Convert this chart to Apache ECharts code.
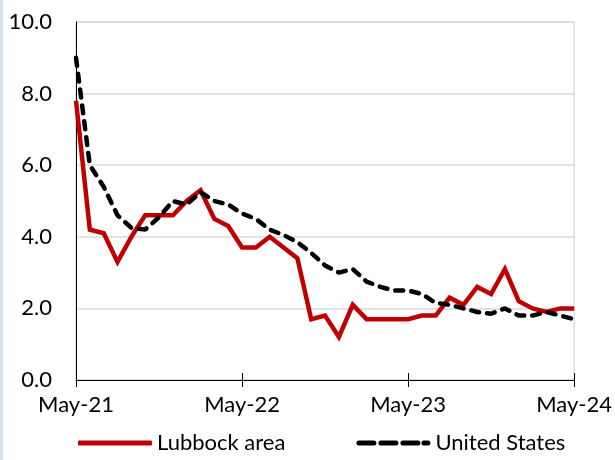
<!DOCTYPE html>
<html>
<head>
<meta charset="utf-8">
<script src="https://cdn.jsdelivr.net/npm/echarts@6/dist/echarts.min.js"></script>
<style>html,body{margin:0;padding:0;background:#fff}#c{width:615px;height:460px}</style>
</head>
<body>
<div id="c"></div>
<script>
const months = ['May-21','Jun-21','Jul-21','Aug-21','Sep-21','Oct-21','Nov-21','Dec-21','Jan-22','Feb-22','Mar-22','Apr-22',
  'May-22','Jun-22','Jul-22','Aug-22','Sep-22','Oct-22','Nov-22','Dec-22','Jan-23','Feb-23','Mar-23','Apr-23',
  'May-23','Jun-23','Jul-23','Aug-23','Sep-23','Oct-23','Nov-23','Dec-23','Jan-24','Feb-24','Mar-24','Apr-24','May-24'];
const lubbock = [7.8,4.2,4.1,3.3,4.0,4.6,4.6,4.6,5.0,5.3,4.5,4.3,
  3.7,3.7,4.0,3.7,3.4,1.7,1.8,1.2,2.1,1.7,1.7,1.7,
  1.7,1.8,1.8,2.3,2.1,2.6,2.4,3.1,2.2,2.0,1.9,2.0,2.0];
const unitedStates = [9.0,6.0,5.4,4.6,4.25,4.2,4.55,5.0,4.9,5.25,5.0,4.9,
  4.65,4.5,4.2,4.05,3.85,3.55,3.2,3.0,3.1,2.75,2.6,2.5,
  2.5,2.4,2.15,2.1,2.0,1.9,1.85,2.0,1.8,1.8,1.9,1.8,1.7];
const FONT = 'Lato';
const dashIcon = 'path://M2,0h15a2,2 0 0 1 0,5h-15a2,2 0 0 1 0,-5z M24,0h15a2,2 0 0 1 0,5h-15a2,2 0 0 1 0,-5z M46,0h15a2,2 0 0 1 0,5h-15a2,2 0 0 1 0,-5z M67,0h4a2.5,2.5 0 0 1 0,5h-4a2.5,2.5 0 0 1 0,-5z';
const chart = echarts.init(document.getElementById('c'), null, {renderer:'canvas'});
chart.setOption({
  animation:false,
  backgroundColor:'#fff',
  graphic:[{type:'rect',shape:{x:0,y:0,width:3,height:460},style:{fill:'#d6e1f2'},silent:true}],
  grid:{left:76,right:39,top:22,bottom:80,show:true,borderColor:'#d0d0d0',borderWidth:1,containLabel:false},
  legend:{bottom:1,left:73,itemWidth:74,itemHeight:5,itemGap:71,
    textStyle:{fontFamily:FONT,fontSize:22,color:'#000'},
    data:[{name:'Lubbock area',icon:'roundRect',itemStyle:{color:'#c00000'}},
          {name:'United States',icon:dashIcon,itemStyle:{color:'#000'}}]},
  xAxis:[{type:'category',data:months,boundaryGap:false,
    axisLine:{lineStyle:{color:'#000',width:1}},
    axisTick:{show:true,interval:11,length:7,lineStyle:{color:'#000'}},
    axisLabel:{interval:11,margin:14,fontFamily:FONT,fontSize:22,color:'#000'},
    splitLine:{show:false}},
    {type:'category',data:months,boundaryGap:false,position:'bottom',
    axisLine:{show:false},
    axisTick:{show:true,inside:true,interval:11,length:7,lineStyle:{color:'#000'}},
    axisLabel:{show:false},splitLine:{show:false}}],
  yAxis:{type:'value',min:0,max:10,interval:2,
    axisLine:{show:true,lineStyle:{color:'#000',width:1}},
    axisTick:{show:false},
    axisLabel:{margin:24,fontFamily:FONT,fontSize:22,color:'#000',formatter:v=>v.toFixed(1)},
    splitLine:{lineStyle:{color:'#d9d9d9',width:1.5}}},
  series:[
    {name:'Lubbock area',type:'line',data:lubbock,symbol:'none',xAxisIndex:0,
      lineStyle:{color:'#c00000',width:4.5,join:'miter'},itemStyle:{color:'#c00000'}},
    {name:'United States',type:'line',data:unitedStates,symbol:'none',xAxisIndex:0,
      lineStyle:{color:'#000',width:4.5,type:[8,8],cap:'round'},itemStyle:{color:'#000'}}
  ]
});
</script>
</body>
</html>
